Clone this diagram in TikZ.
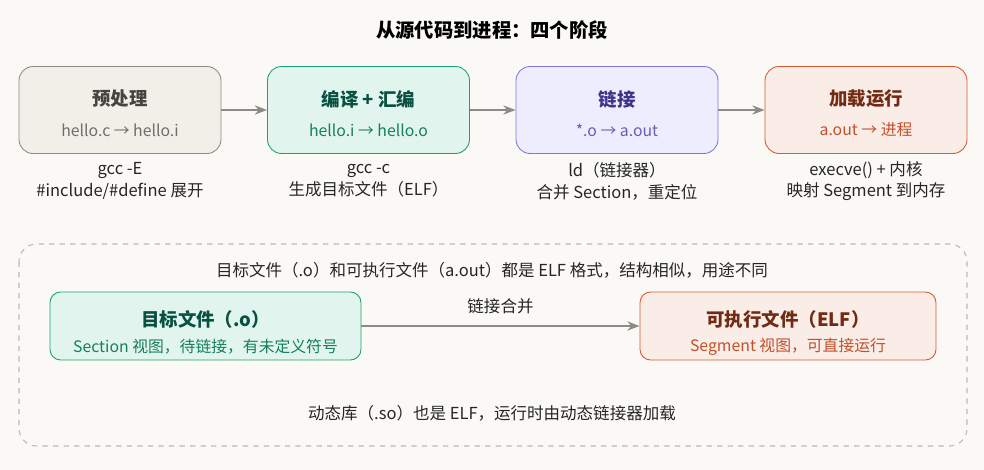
\documentclass[tikz,border=0pt]{standalone}
\usepackage{fontspec}
\setmainfont{Noto Sans CJK SC}
\usetikzlibrary{positioning,arrows.meta}
\definecolor{bgc}{HTML}{FAF9F5}
\definecolor{grayf}{HTML}{F1EFE8}\definecolor{grayd}{HTML}{8C8A84}\definecolor{grayt}{HTML}{444441}
\definecolor{greenf}{HTML}{E1F5EE}\definecolor{greend}{HTML}{1D9E75}\definecolor{greent}{HTML}{085041}
\definecolor{purpf}{HTML}{EEEDFE}\definecolor{purpd}{HTML}{7F77DD}\definecolor{purpt}{HTML}{3C3489}
\definecolor{redf}{HTML}{FAECE7}\definecolor{redd}{HTML}{D85A30}\definecolor{redt}{HTML}{712B13}
\tikzset{
  stage/.style={draw, rounded corners=8pt, minimum width=4.04cm, minimum height=1.74cm, line width=0.5pt},
  elf/.style={draw, rounded corners=6pt, line width=0.5pt},
  conn/.style={-{Stealth[length=7pt]}, line width=1.1pt, draw=grayd},
  note/.style={font=\fontsize{9.4}{12.4}\selectfont, text=black!85, align=center},
}
\begin{document}
\begin{tikzpicture}[x=0.02cm,y=-0.02cm]
  \fill[bgc] (0,0) rectangle (984,470);
  \node[font=\fontsize{11}{12}\selectfont\bfseries] (title) at (492,30) {从源代码到进程：四个阶段};
  % Stages
  \node[stage, fill=grayf, draw=grayd] (pre) at (120,110) {};
  \node[stage, fill=greenf, draw=greend] (cc) at (368.5,110) {};
  \node[stage, fill=purpf, draw=purpd] (ld) at (617,110) {};
  \node[stage, fill=redf, draw=redd] (run) at (866,110) {};
  \node[font=\fontsize{10.5}{12}\selectfont\bfseries, text=grayt] at (120,99) {预处理};
  \node[font=\fontsize{9}{10}\selectfont, text=grayd!80!black] at (120,130) {hello.c → hello.i};
  \node[font=\fontsize{10.5}{12}\selectfont\bfseries, text=greent] at (368.5,99) {编译 + 汇编};
  \node[font=\fontsize{9}{10}\selectfont, text=greend!80!black] at (368.5,130) {hello.i → hello.o};
  \node[font=\fontsize{10.5}{12}\selectfont\bfseries, text=purpt] at (617,99) {链接};
  \node[font=\fontsize{9}{10}\selectfont, text=purpd!80!black] at (617,130) {*.o → a.out};
  \node[font=\fontsize{10.5}{12}\selectfont\bfseries, text=redt] at (866,99) {加载运行};
  \node[font=\fontsize{9}{10}\selectfont, text=redd!90!black] at (866,130) {a.out → 进程};
  \draw[conn] (pre) -- (cc);
  \draw[conn] (cc) -- (ld);
  \draw[conn] (ld) -- (run);
  % Notes
  \node[note] (n1) at (120,181) {gcc -E\\\#include/\#define 展开};
  \node[note] (n2) at (368.5,181) {gcc -c\\生成目标文件（ELF）};
  \node[note] (n3) at (617,181) {ld（链接器）\\合并 Section，重定位};
  \node[note] (n4) at (866,181) {execve() + 内核\\映射 Segment 到内存};
  % ELF panel
  \draw[grayd!60, dashed, rounded corners=10pt, line width=0.6pt] (19,244) rectangle (967,446);
  \node[note] (hdr) at (492,270) {目标文件（.o）和可执行文件（a.out）都是 ELF 格式，结构相似，用途不同};
  \node[elf, fill=greenf, draw=greend, minimum width=6.22cm, minimum height=1.36cm] (obj) at (205.5,326) {};
  \node[font=\fontsize{10.5}{12}\selectfont\bfseries, text=greent] at (205.5,319) {目标文件（.o）};
  \node[font=\fontsize{9}{10}\selectfont, text=greend!80!black] at (205.5,347) {Section 视图，待链接，有未定义符号};
  \node[elf, fill=redf, draw=redd, minimum width=5.92cm, minimum height=1.36cm] (exe) at (788,326) {};
  \node[font=\fontsize{10.5}{12}\selectfont\bfseries, text=redt] at (788,319) {可执行文件（ELF）};
  \node[font=\fontsize{9}{10}\selectfont, text=redd!90!black] at (788,347) {Segment 视图，可直接运行};
  \draw[conn] (obj) -- node[above=3pt, note] {链接合并} (exe);
  \node[note] (so) at (492,413) {动态库（.so）也是 ELF，运行时由动态链接器加载};
\end{tikzpicture}
\end{document}
